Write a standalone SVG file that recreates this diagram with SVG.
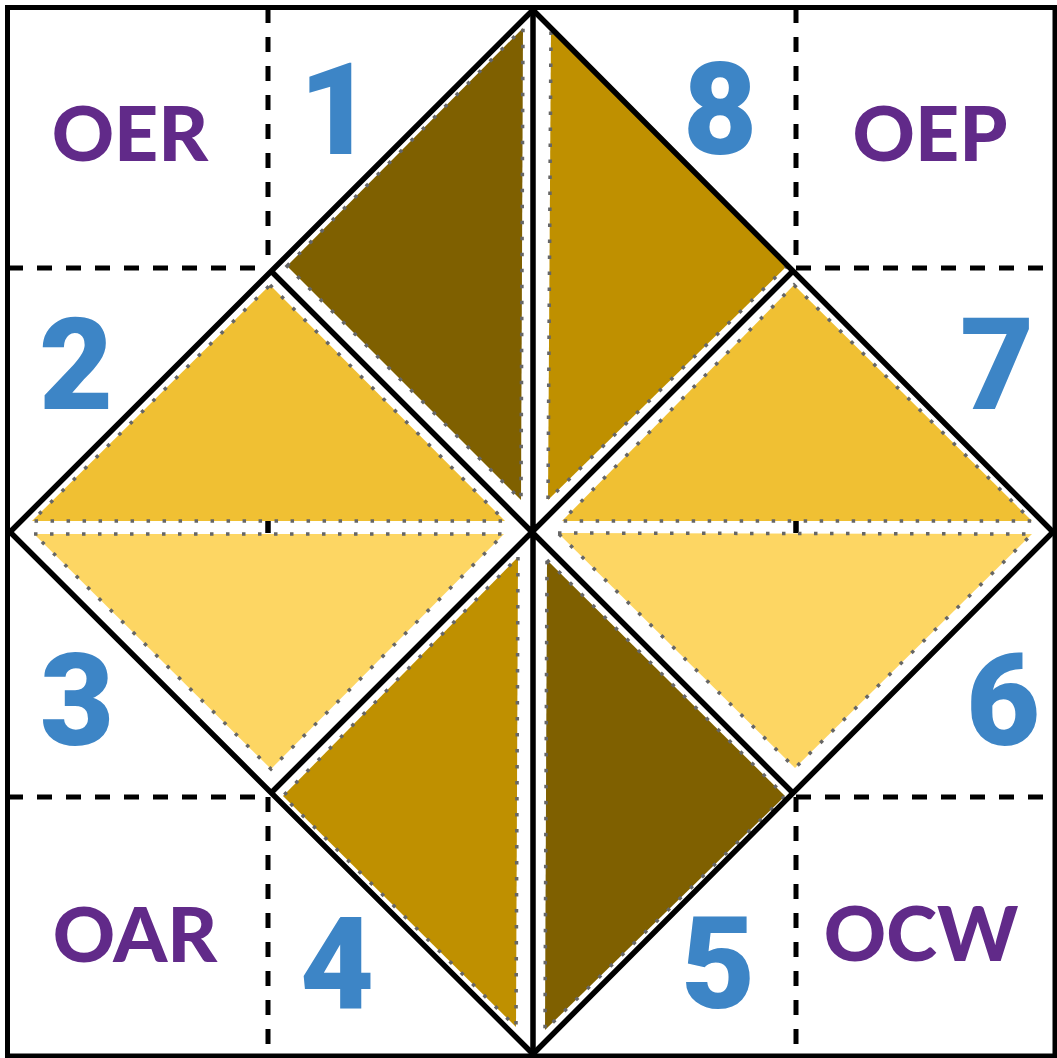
<svg xmlns="http://www.w3.org/2000/svg" width="1057" height="1058" viewBox="0 0 1057 1058">
<style>
.frame{fill:none;stroke:#000;stroke-width:5}
.dash{fill:none;stroke:#000;stroke-width:5;stroke-dasharray:15 14}
.line{fill:none;stroke:#000;stroke-width:5.5;stroke-linejoin:miter}
.tri{stroke:#666;stroke-width:3.5;stroke-dasharray:3.5 12.5}
.dark{fill:#7F6000}
.gold{fill:#BF9000}
.yel{fill:#F0C033}
.lt{fill:#FDD663}
.num{font-family:Roboto,"Liberation Sans",sans-serif;font-weight:900;font-size:128px;fill:#3D85C6;text-anchor:middle}
.lab{font-family:Lato,"Liberation Sans",sans-serif;font-weight:900;font-size:77px;fill:#612A89;text-anchor:middle}
</style>
<rect x="0" y="0" width="1057" height="1058" fill="#fff"/>
<g id="grid">
<path class="dash" d="M268,8 V268 M268,797 V1056 M796,8 V268 M796,797 V1056 M8,268 H268 M796,268 H1055 M8,797 H268 M796,797 H1055"/>
<path class="line" d="M268,521 V533 M796,521 V533"/>
</g>
<g id="tri1"><polygon class="tri dark" points="287,266 523,28 521,500"/></g>
<g id="tri8"><polygon class="tri gold" points="551,28 788,265 548,500"/></g>
<g id="tri2"><polygon class="tri yel" points="270,285 505,521 32,521"/></g>
<g id="tri7"><polygon class="tri yel" points="794,285 1032,521 562,521"/></g>
<g id="tri3"><polygon class="tri lt" points="34,534 504,534 271,769"/></g>
<g id="tri6"><polygon class="tri lt" points="558,533 1032,534 795,768"/></g>
<g id="tri4"><polygon class="tri gold" points="518,557 516,1027 283,796"/></g>
<g id="tri5"><polygon class="tri dark" points="547,560 785,796 545,1030"/></g>
<g id="connectors">
<rect class="frame" x="7.5" y="7.5" width="1047.5" height="1048.5"/>
<polygon class="line" points="533,10 1053,532 533,1054 10,532"/>
<path class="line" d="M271,271 L793,793 M793,271 L271,793 M533,10 V1054"/>
</g>
<g id="labels">
<text class="num" x="336" y="154">1</text>
<text class="num" x="720" y="154">8</text>
<text class="num" x="76" y="409">2</text>
<text class="num" x="997" y="409">7</text>
<text class="num" x="77" y="745">3</text>
<text class="num" x="1003" y="745">6</text>
<text class="num" x="337" y="1008">4</text>
<text class="num" x="718" y="1008">5</text>
<text class="lab" x="130" y="161">OER</text>
<text class="lab" x="930" y="161">OEP</text>
<text class="lab" x="135" y="962">OAR</text>
<text class="lab" x="921" y="961">OCW</text>
</g>
</svg>
